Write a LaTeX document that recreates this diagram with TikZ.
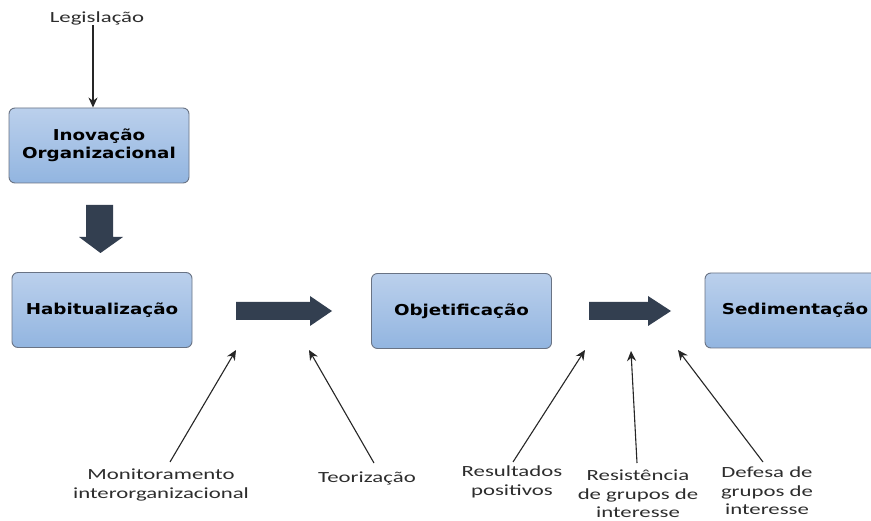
\documentclass[tikz,border=0pt]{standalone}
\usepackage{fontspec}
\setmainfont{Carlito}
\newfontfamily\boxfont{DejaVu Sans}
\usetikzlibrary{arrows.meta}
\definecolor{boxtop}{RGB}{187,208,236}
\definecolor{boxbot}{RGB}{146,181,224}
\definecolor{boxline}{RGB}{105,115,132}
\definecolor{blockc}{RGB}{51,63,80}
\definecolor{lbltext}{RGB}{45,45,45}
\newcommand\hs[1]{\scalebox{1.47}[1]{#1}}
\newcommand\bs[1]{\scalebox{1.22}[1]{#1}}
\tikzset{
  procbox/.style={draw=boxline, line width=0.9pt, rounded corners=6pt,
    top color=boxtop, bottom color=boxbot, minimum width=180pt, minimum height=75pt,
    inner sep=0pt, align=center, font=\boxfont\bfseries\fontsize{15}{18}\selectfont},
  lbl/.style={inner sep=0pt, align=center, text=lbltext, font=\fontsize{15.5}{18.5}\selectfont},
  thin/.style={line width=1.1pt, draw=black!85, -{Stealth[length=10pt,width=9pt]}},
  block/.style={fill=blockc}
}
\begin{document}
\begin{tikzpicture}[x=1pt,y=-1pt]
\clip (0,0) rectangle (871,521);
\fill[white] (0,0) rectangle (871,521);
% boxes
\node[procbox] (ino) at (99,145.5) {\bs{Inovação}\\\bs{Organizacional}};
\node[procbox] (hab) at (102,310) {\bs{Habitualização}};
\node[procbox] (obj) at (461.5,311) {\bs{Objetificação}};
\node[procbox] (sed) at (795,310.5) {\bs{Sedimentação}};
% legislação
\node[lbl] (leg) at (97,18) {\hs{Legislação}};
\draw[thin] (leg.south -| 93,0) -- (ino.north -| 93,0);
% block arrows
\fill[block] (86,205) -- (113,205) -- (113,237) -- (123,237) -- (100.5,253) -- (79,237) -- (86,237) -- cycle;
\fill[block] (236,302) -- (310,302) -- (310,296) -- (332,311) -- (310,326) -- (310,320) -- (236,320) -- cycle;
\fill[block] (589,302) -- (648,302) -- (648,296) -- (671,311) -- (648,326) -- (648,320) -- (589,320) -- cycle;
% labels
\node[lbl] (mon) at (161,485) {\hs{Monitoramento}\\\hs{interorganizacional}};
\node[lbl] (teo) at (367,478) {\hs{Teorização}};
\node[lbl] (res) at (512,482) {\hs{Resultados}\\\hs{positivos}};
\node[lbl] (rsi) at (638,494) {\hs{Resistência}\\\hs{de grupos de}\\\hs{interesse}};
\node[lbl] (def) at (767,491) {\hs{Defesa de}\\\hs{grupos de}\\\hs{interesse}};
% arrow ends
\coordinate (monS) at (170,462); \coordinate (monT) at (236,350);
\coordinate (teoS) at (374,463); \coordinate (teoT) at (309,350);
\coordinate (resS) at (513,462); \coordinate (resT) at (585,350);
\coordinate (rsiS) at (637,463); \coordinate (rsiT) at (631,351);
\coordinate (defS) at (763,462); \coordinate (defT) at (678,350);
\draw[thin] (monS) -- (monT);
\draw[thin] (teoS) -- (teoT);
\draw[thin] (resS) -- (resT);
\draw[thin] (rsiS) -- (rsiT);
\draw[thin] (defS) -- (defT);
\end{tikzpicture}
\end{document}
